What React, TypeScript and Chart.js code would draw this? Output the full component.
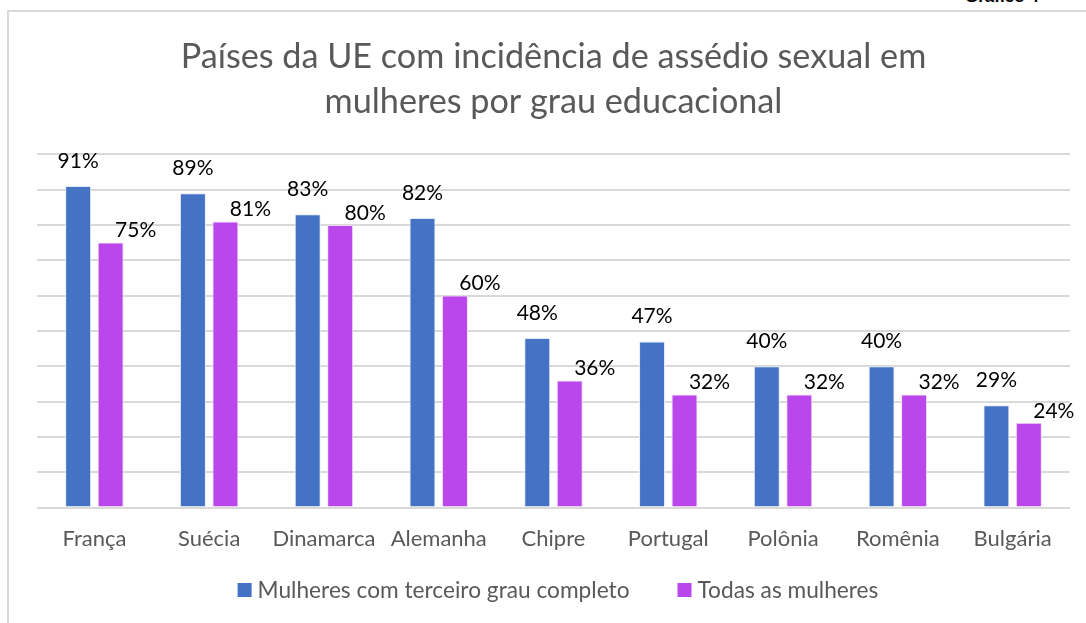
import React, { useEffect, useRef } from "react";
import { Chart, registerables } from "chart.js";

Chart.register(...registerables);

const categories = ["França", "Suécia", "Dinamarca", "Alemanha", "Chipre", "Portugal", "Polônia", "Romênia", "Bulgária"];
const terceiroGrau = [91, 89, 83, 82, 48, 47, 40, 40, 29];
const todasMulheres = [75, 81, 80, 60, 36, 32, 32, 32, 24];
const seriesNames = ["Mulheres com terceiro grau completo", "Todas as mulheres"];
const seriesColors = ["#4472C4", "#BA47EB"];
const titleLines = ["Países da UE com incidência de assédio sexual em", "mulheres por grau educacional"];

const labelPlugin = {
  id: "valueLabels",
  afterDatasetsDraw(chart: any) {
    const ctx = chart.ctx;
    ctx.save();
    ctx.font = "21px Lato";
    ctx.fillStyle = "#000000";
    ctx.textAlign = "center";
    ctx.textBaseline = "middle";
    chart.data.datasets.forEach((ds: any, di: number) => {
      const meta = chart.getDatasetMeta(di);
      meta.data.forEach((bar: any, i: number) => {
        const dx = di === 0 ? 0 : 25;
        const dy = di === 0 ? -25 : -12;
        ctx.fillText(ds.data[i] + "%", bar.x + dx, bar.y + dy);
      });
    });
    ctx.restore();
  },
};

const legendPlugin = {
  id: "customLegend",
  afterDraw(chart: any) {
    const ctx = chart.ctx;
    ctx.save();
    ctx.font = "22.7px Lato";
    ctx.textBaseline = "middle";
    ctx.textAlign = "left";
    const box = 14;
    const gapBoxText = 6;
    const gapItems = 48;
    const widths = seriesNames.map((n) => ctx.measureText(n).width);
    const total = widths.reduce((a, w) => a + box + gapBoxText + w, 0) + gapItems * (seriesNames.length - 1);
    let x = 558 - total / 2;
    const y = 590;
    seriesNames.forEach((n, i) => {
      ctx.fillStyle = seriesColors[i];
      ctx.fillRect(x, y - box / 2, box, box);
      ctx.fillStyle = "#595959";
      ctx.fillText(n, x + box + gapBoxText, y + 1);
      x += box + gapBoxText + widths[i] + gapItems;
    });
    ctx.restore();
  },
};

export default function App() {
  const ref = useRef<HTMLCanvasElement>(null);
  useEffect(() => {
    if (!ref.current) return;
    const chart = new Chart(ref.current, {
      type: "bar",
      data: {
        labels: categories,
        datasets: [
          {
            label: seriesNames[0],
            data: terceiroGrau,
            backgroundColor: seriesColors[0],
            borderColor: "#e6ecf7",
            borderWidth: 1,
            categoryPercentage: 0.566,
            barPercentage: 0.8,
          },
          {
            label: seriesNames[1],
            data: todasMulheres,
            backgroundColor: seriesColors[1],
            borderColor: "#f2dcfb",
            borderWidth: 1,
            categoryPercentage: 0.566,
            barPercentage: 0.8,
          },
        ],
      },
      options: {
        animation: false,
        responsive: false,
        layout: { padding: { left: 37, right: 16, top: 0, bottom: 61 } },
        plugins: {
          title: {
            display: true,
            text: titleLines,
            color: "#595959",
            font: { family: "Lato", size: 34.2, weight: "normal", lineHeight: 1.32 },
            padding: { top: 34, bottom: 30 },
          },
          legend: { display: false },
          tooltip: { enabled: false },
        },
        scales: {
          x: {
            grid: { display: false },
            border: { display: false },
            ticks: { color: "#595959", font: { family: "Lato", size: 22 }, padding: 10 },
          },
          y: {
            min: 0,
            max: 100,
            ticks: { display: false, stepSize: 10 },
            grid: { color: "#d9d9d9", lineWidth: 2, drawTicks: false },
            border: { display: false },
          },
        },
      },
      plugins: [labelPlugin, legendPlugin],
    });
    return () => chart.destroy();
  }, []);
  return (
    <div style={{ position: "fixed", left: 0, top: 0, width: 1086, height: 623, overflow: "hidden", background: "#fff" }}>
      <div style={{ position: "absolute", left: 7, top: 10, width: 1100, height: 640, borderLeft: "2px solid #d9d9d9", borderTop: "2px solid #d9d9d9" }} />
      <div style={{ position: "absolute", left: 965, top: -13, fontFamily: "Liberation Sans", fontSize: 17, fontWeight: "bold", color: "#000" }}>Gráfico 4</div>
      <canvas ref={ref} width={1086} height={623} style={{ position: "absolute", left: 0, top: 0 }} />
    </div>
  );
}
